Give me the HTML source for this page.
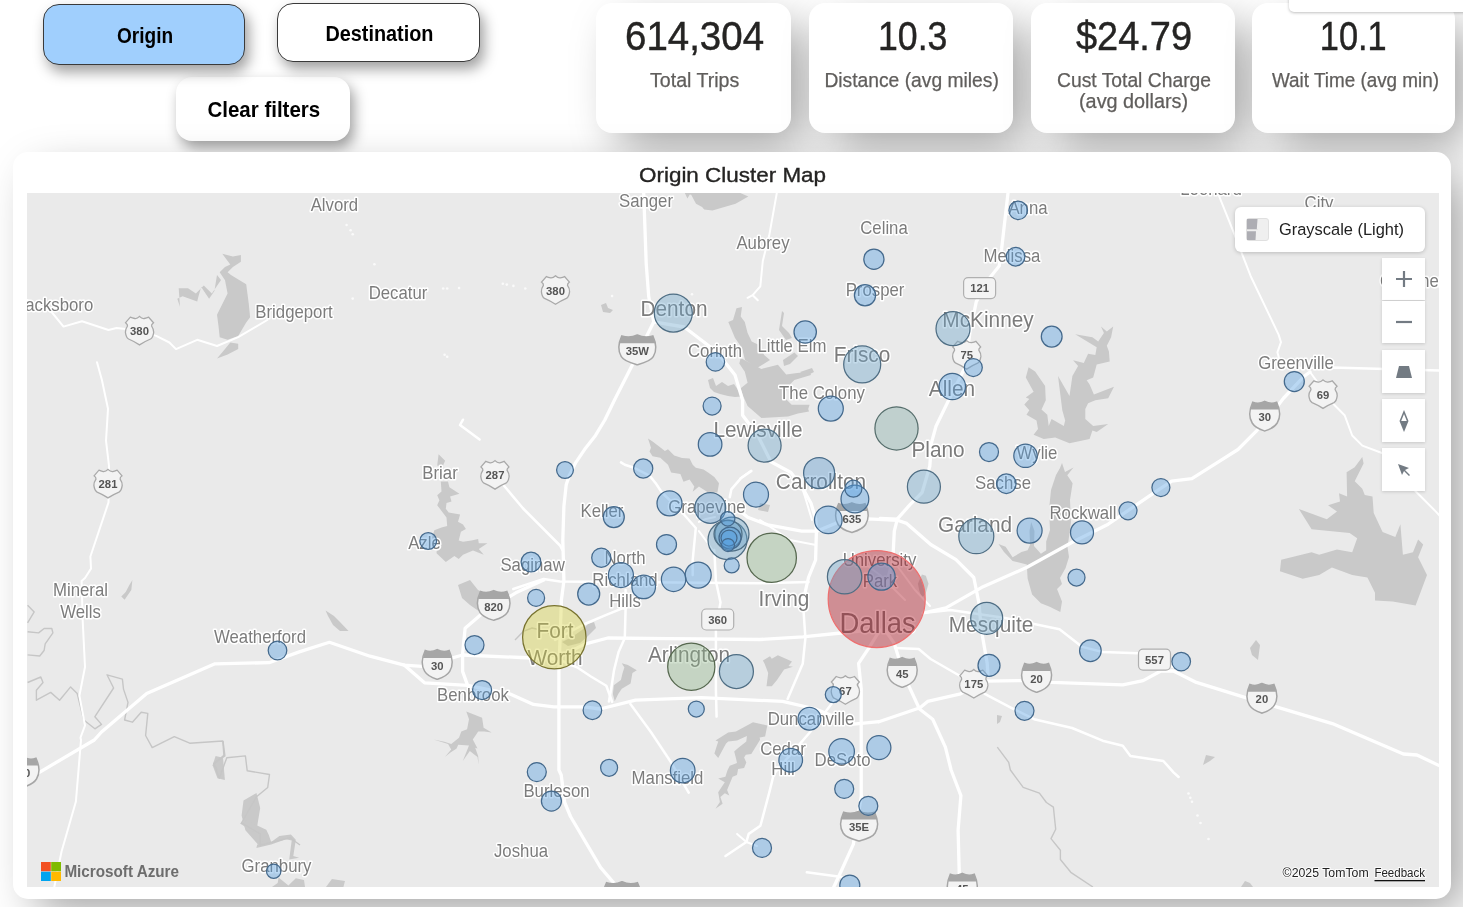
<!DOCTYPE html><html><head><meta charset="utf-8"><title>Origin Cluster Map</title><style>
*{box-sizing:border-box}
html,body{margin:0;padding:0}
body{width:1463px;height:907px;overflow:hidden;position:relative;background:#fff;font-family:"Liberation Sans",Arial,sans-serif}
.btn{position:absolute;border-radius:16px;display:flex;align-items:center;justify-content:center;font-weight:bold;font-size:19px;color:#000;letter-spacing:-0.2px}
.card{position:absolute;background:#fff;border-radius:16px;box-shadow:17px 17px 46px -5px rgba(0,0,0,0.37)}
.kv{position:absolute;left:0;right:0;text-align:center;font-size:39px;color:#252423;top:14px;line-height:44px;letter-spacing:0.5px}
.kl{position:absolute;left:0;right:0;text-align:center;font-size:18px;color:#605e5c;top:67px;line-height:21px}
.lb{font-family:"Liberation Sans",Arial,sans-serif;fill:#7c7c7c;text-anchor:middle;stroke:#ffffff;stroke-width:3px;paint-order:stroke;stroke-linejoin:round}
.sh{font-family:"Liberation Sans",Arial,sans-serif;font-weight:bold;font-size:11.3px;fill:#555;text-anchor:middle}
</style></head><body>
<div class="btn" style="left:176.4px;top:76.7px;width:173.2px;height:64px;background:#fff;box-shadow:4px 7px 14px rgba(0,0,0,0.38)"></div>
<div class="btn" style="left:42.6px;top:4.2px;width:202.4px;height:60.5px;background:#a0cffd;border:1px solid #3a3a3a;box-shadow:4px 7px 14px rgba(0,0,0,0.38)"></div>
<div class="btn" style="left:277px;top:3px;width:203px;height:58.7px;background:#fff;border:1px solid #3a3a3a;box-shadow:4px 7px 14px rgba(0,0,0,0.38)"></div>
<div class="card" style="left:596.2px;top:2.6px;width:195.3px;height:130.3px"></div>
<div class="card" style="left:809px;top:2.6px;width:204px;height:130.3px"></div>
<div class="card" style="left:1031.1px;top:2.6px;width:203.5px;height:130.3px"></div>
<div class="card" style="left:1252.3px;top:2.6px;width:202.7px;height:130.3px"></div>
<div style="position:absolute;left:1289px;top:-10px;width:190px;height:22px;background:#fff;border-radius:5px;box-shadow:0 1px 3px rgba(0,0,0,0.25)"></div>
<div class="card" style="left:12.8px;top:152.4px;width:1438.5px;height:746.8px;border-radius:15px"></div>
<svg width="1412" height="694" viewBox="27 193 1412 694" style="position:absolute;left:27px;top:193px;display:block">
<rect x="27" y="193" width="1412" height="694" fill="#eaeaea"/>
<polygon points="233.0,276.3 246.2,284.3 248.8,304.1 250.1,317.3 246.2,322.6 238.2,335.9 227.6,339.8 219.7,337.2 218.4,325.3 217.0,314.7 227.6,293.5 225.0,280.3 219.7,272.3 225.0,267.0 230.3,264.4 222.3,253.8 232.9,256.5 240.9,255.1 240.9,261.8 232.9,267.0 227.6,272.3 231.0,275.0" fill="#c9c9c9"/>
<polygon points="217.0,275.0 214.4,290.9 209.1,298.8 201.2,286.9 198.5,296.2 197.2,301.5 182.6,296.2 177.3,298.8 180.0,306.8 178.7,288.2 188.0,288.2 195.9,293.5 203.8,285.6 211.8,293.5 221.0,280.0" fill="#c9c9c9"/>
<polygon points="230.3,342.5 238.2,343.8 238.2,349.1 227.6,354.4 217.0,358.4 225.0,349.1" fill="#c9c9c9"/>
<polygon points="440.8,481.6 448.0,481.6 449.4,487.3 459.4,493.8 450.1,496.6 451.5,501.6 446.5,503.1 445.8,508.8 448.7,512.4 460.1,514.6 458.0,521.7 463.0,524.6 465.9,528.9 460.9,531.8 458.7,540.4 463.0,541.8 471.6,540.4 478.1,538.9 478.8,543.2 487.4,543.2 478.8,549.0 483.8,554.7 473.0,550.4 463.0,554.7 458.7,559.0 454.4,556.1 445.8,561.9 436.5,553.3 437.2,546.1 432.2,537.5 434.3,530.3 441.5,527.5 447.2,526.0 446.5,517.4 437.2,505.2 439.4,500.2 437.2,495.2 441.5,491.6" fill="#c9c9c9"/>
<polygon points="438.6,454.3 445.1,460.8 442.9,465.8 437.2,465.8" fill="#c9c9c9"/>
<polygon points="684.7,192.7 739.7,192.7 748.3,196.5 735.6,203.7 712.4,210.5 704.2,209.5 702.1,207.1 696.0,203.7 691.2,194.8 689.8,194.4 687.4,198.5" fill="#c9c9c9"/>
<polygon points="740.7,357.9 761.4,368.9 777.9,364.8 786.2,374.4 797.2,373.1 809.6,371.7 811.0,375.1 794.4,379.9 788.9,385.5 783.4,396.5 791.7,404.8 809.6,404.8 808.2,408.9 809.0,411.5 798.0,413.5 788.0,416.5 761.4,418.0 747.6,406.1 743.4,396.5 740.7,388.2 747.6,382.7 744.8,371.7 739.3,363.4" fill="#c9c9c9"/>
<polygon points="736.5,308.3 742.0,306.9 740.7,316.5 744.8,322.0 747.6,333.1 751.7,341.4 760.0,345.5 764.1,355.1 770.0,360.0 757.0,368.0 745.0,360.0 742.0,348.0 735.0,338.0 728.3,322.0 733.0,320.0" fill="#c9c9c9"/>
<polygon points="708.0,380.0 713.0,378.0 716.0,386.0 722.0,382.0 728.0,386.0 734.0,384.0 738.0,390.0 742.0,396.5 735.0,397.0 728.0,396.0 720.0,394.0 714.0,392.0 710.0,388.0" fill="#c9c9c9"/>
<polygon points="782.0,311.0 784.0,313.0 782.0,326.0 789.0,333.0 792.0,338.0 786.0,340.0 779.0,330.0" fill="#c9c9c9"/>
<polygon points="794.4,352.4 798.0,356.0 790.0,364.0 784.0,366.0 783.0,360.0" fill="#c9c9c9"/>
<polygon points="800.0,372.0 812.0,368.0 814.0,372.0 806.0,376.0" fill="#c9c9c9"/>
<polygon points="648.0,438.5 651.0,447.8 649.5,451.6 652.6,456.3 660.3,457.8 668.0,464.8 671.1,472.5 680.4,474.0 683.5,481.7 689.6,479.4 694.3,486.4 692.7,491.8 698.9,486.4 708.1,492.5 717.4,492.5 719.0,483.3 714.3,477.1 708.1,472.5 703.5,469.4 695.8,467.8 692.7,464.8 689.6,458.6 682.0,458.0 674.2,455.5 668.0,449.3 664.9,450.9 658.8,446.2 652.6,441.6" fill="#c9c9c9"/>
<polygon points="760.0,503.0 770.0,505.0 768.0,512.0 758.0,510.0" fill="#c9c9c9"/>
<polygon points="1028.6,367.3 1035.1,371.6 1045.1,386.0 1045.8,400.3 1041.5,409.6 1047.3,414.7 1048.7,426.1 1051.6,419.0 1063.8,426.1 1065.2,420.4 1062.3,410.3 1058.0,375.9 1069.5,396.0 1072.4,375.9 1078.1,365.9 1073.1,360.2 1083.8,363.0 1088.1,353.7 1095.3,355.1 1096.7,347.2 1075.2,334.3 1092.4,337.2 1098.2,341.5 1103.9,332.9 1101.0,326.5 1106.8,331.5 1113.2,326.5 1111.1,337.2 1106.8,345.8 1108.9,351.6 1109.7,361.6 1096.7,364.5 1093.2,377.4 1086.7,380.2 1089.6,384.5 1093.9,394.6 1114.0,386.7 1108.2,398.2 1095.3,400.3 1088.1,403.2 1085.3,408.9 1085.3,419.0 1093.2,426.1 1108.2,424.0 1096.7,431.9 1092.4,430.4 1089.6,439.0 1069.5,443.3 1055.2,437.6 1043.7,439.0 1033.6,434.7 1038.0,429.0 1036.5,420.4 1026.5,414.7 1029.3,410.3 1024.3,404.6 1029.3,398.9 1025.8,397.4 1033.6,391.7 1025.8,377.4" fill="#c9c9c9"/>
<polygon points="1062.0,463.0 1065.0,472.0 1073.5,467.4 1067.3,475.3 1072.6,483.2 1070.0,500.0 1071.0,522.0 1069.0,537.0 1067.5,547.0 1069.0,557.0 1065.6,568.0 1060.0,578.0 1062.0,584.0 1057.0,589.0 1062.0,601.5 1060.3,612.0 1049.7,606.8 1040.9,603.2 1032.1,594.4 1027.6,578.5 1026.8,564.4 1012.6,560.9 1004.0,552.0 998.5,544.1 1005.6,546.8 1012.6,557.3 1021.5,552.1 1027.6,550.3 1030.0,545.0 1029.5,531.0 1031.2,522.0 1034.5,531.0 1034.0,546.0 1040.9,553.8 1046.2,550.3 1046.2,541.5 1050.0,530.0 1049.0,510.0 1051.0,490.0 1056.0,475.0 1060.0,468.0" fill="#c9c9c9"/>
<polygon points="921.9,574.4 925.8,575.7 928.5,583.7 925.8,592.9 921.9,598.2 919.2,590.3 917.9,583.7" fill="#c9c9c9"/>
<polygon points="1362.3,457.1 1354.7,467.2 1346.6,472.3 1347.1,496.4 1339.0,493.3 1340.0,501.4 1328.1,505.2 1337.0,511.6 1326.8,519.2 1298.9,509.1 1311.6,529.3 1349.6,533.1 1357.2,538.2 1352.2,552.2 1337.0,549.6 1319.2,554.7 1311.6,552.2 1281.2,559.8 1279.9,571.2 1302.7,578.8 1319.2,575.0 1331.9,567.4 1352.2,575.0 1367.4,577.5 1375.0,592.7 1375.0,600.4 1392.7,601.6 1415.6,605.4 1427.0,575.0 1418.1,557.2 1423.2,544.6 1418.1,539.5 1413.0,552.2 1402.9,554.7 1400.4,524.3 1395.3,537.0 1382.6,531.9 1373.7,512.9 1372.5,496.4 1364.8,495.1 1362.3,488.8 1354.7,481.2 1363.6,463.4" fill="#c9c9c9"/>
<polygon points="466.3,711.6 482.1,717.7 483.6,727.8 491.7,732.4 484.4,731.6 478.2,731.6 472.8,739.4 477.5,748.6 475.2,747.8 478.2,756.3 478.6,764.8 477.5,757.1 469.8,750.9 462.8,761.0 469.0,745.5 458.2,744.8 456.6,748.6 450.5,752.5 445.1,756.7 451.2,749.4 448.1,744.0 433.5,739.4 444.3,741.7 451.2,744.0 459.0,737.8 461.3,731.6 467.1,729.3 469.0,719.3" fill="#c9c9c9"/>
<polygon points="562.0,642.0 572.0,637.0 582.0,630.0 588.0,624.0 594.0,622.0 596.0,628.0 588.0,636.0 580.0,643.0 568.0,646.0" fill="#c9c9c9"/>
<polygon points="132.4,579.9 131.3,589.9 124.6,599.8 121.3,596.5 125.7,592.1 129.1,585.4" fill="#c9c9c9"/>
<polygon points="243.5,800.5 256.5,793.0 260.2,807.9 256.5,830.2 267.7,837.7 260.2,847.0 245.4,830.2 241.6,815.4" fill="#c9c9c9"/>
<polygon points="215.6,755.9 223.0,757.7 224.9,780.0 217.5,778.2 212.6,765.2" fill="#c9c9c9"/>
<polygon points="240.0,823.3 248.2,820.0 252.3,823.3 266.3,829.8 268.7,834.8 271.2,842.1 279.4,836.0 290.9,834.4 295.8,839.7 293.3,856.0 299.1,857.7 289.2,859.4 291.7,840.5 285.9,839.3 271.2,844.6 256.4,847.9 257.2,844.6 262.1,843.8 262.1,838.0 254.8,833.1 240.8,824.1" fill="#c9c9c9"/>
<polygon points="272.0,887.0 277.7,883.0 278.6,877.4 288.4,885.6 295.8,878.2 304.0,879.9 305.0,887.0" fill="#c9c9c9"/>
<polygon points="326.0,887.0 331.9,879.1 345.0,881.1 343.4,887.0" fill="#c9c9c9"/>
<polygon points="1206.0,755.0 1215.0,757.0 1210.0,761.0 1203.0,765.0" fill="#c9c9c9"/>
<polygon points="1256.0,640.0 1260.0,645.0 1258.0,660.0 1252.0,655.0 1250.0,648.0" fill="#c9c9c9"/>
<polygon points="997.0,715.0 1002.0,716.0 1000.0,722.0 997.0,724.0" fill="#c9c9c9"/>
<polygon points="601.0,305.0 606.0,303.0 608.0,308.0 613.0,310.0 610.0,313.0 603.0,312.0" fill="#c9c9c9"/>
<polygon points="1241.0,887.0 1245.0,881.0 1250.0,883.0 1253.0,887.0" fill="#c9c9c9"/>
<polygon points="325.6,610.6 334.0,616.0 340.0,622.0 348.5,630.9 340.0,631.0 333.0,625.0 328.0,616.0" fill="#c9c9c9"/>
<polygon points="753.0,722.2 767.3,725.5 765.1,736.5 759.6,737.6 760.1,739.8 751.3,754.1 745.8,754.7 744.1,757.4 746.3,762.4 744.1,767.9 738.1,769.0 737.0,775.1 732.6,776.7 727.1,790.0 729.3,795.5 724.8,793.3 720.4,797.1 722.6,803.8 715.5,808.7 719.9,802.1 718.2,792.2 724.8,782.3 718.2,778.4 725.4,776.7 727.6,770.1 729.8,765.7 737.0,763.0 735.9,758.0 734.2,751.4 738.1,748.1 746.3,741.5 746.9,735.9 737.0,740.4 728.2,741.5 725.9,743.7 718.2,758.0 714.4,753.6 718.2,741.5 715.5,740.4 728.2,732.6 735.9,731.5" fill="#c9c9c9"/>
<polygon points="762.9,660.6 770.0,656.2 771.8,658.8 777.9,655.3 792.0,661.5 788.5,665.9 792.9,666.8 784.1,669.4 777.0,680.0 771.8,686.2 766.5,686.2 768.2,672.9 764.7,664.1" fill="#c9c9c9"/>
<polygon points="621.8,663.2 627.9,665.0 636.8,670.3 632.4,672.9 630.6,683.5 621.8,688.8 618.2,694.1 614.7,701.2 612.9,694.1 613.8,685.3 620.9,680.0 622.6,672.9 624.4,667.6" fill="#c9c9c9"/>
<polygon points="458.0,585.0 470.0,580.0 478.0,590.0 490.0,596.0 500.0,602.0 492.0,610.0 480.0,612.0 470.0,605.0 462.0,598.0" fill="#c9c9c9"/>
<polyline points="515.0,640.0 523.3,631.4 532.0,628.0 545.0,631.0 556.0,638.0" fill="none" stroke="#c6c6c6" stroke-width="1.4" stroke-linejoin="round"/>
<polyline points="997.3,747.1 1008.7,762.3 1010.4,770.0 1023.2,787.4 1039.4,793.2 1046.4,802.5 1053.4,807.2 1055.7,829.3 1051.0,838.6 1060.4,850.2 1060.4,859.5 1070.8,872.3 1092.9,887.0" fill="none" stroke="#c6c6c6" stroke-width="1.4" stroke-linejoin="round"/>
<polyline points="223.0,741.0 224.9,755.9 213.8,763.3 219.3,778.2 226.8,757.7 245.4,755.9 247.2,770.7 269.5,774.5 267.7,787.5 256.5,796.8 241.6,822.8 260.2,833.9 260.2,845.1 290.0,837.7 300.0,845.0" fill="none" stroke="#c6c6c6" stroke-width="1.4" stroke-linejoin="round"/>
<polyline points="27.6,605.3 34.2,611.9 27.6,622.9" fill="none" stroke="#c6c6c6" stroke-width="1.4" stroke-linejoin="round"/>
<polyline points="27.6,631.8 38.6,632.9 44.1,628.5 51.8,628.5 52.9,632.9 45.2,643.9 44.1,650.5 39.7,656.0 27.6,654.9" fill="none" stroke="#c6c6c6" stroke-width="1.4" stroke-linejoin="round"/>
<polyline points="27.6,682.5 40.8,677.0 43.0,682.5 36.4,690.2 36.4,700.2 50.7,692.4 59.6,700.2 70.6,686.9 77.2,693.5 83.8,720.0 94.9,728.8 101.5,724.4 94.9,716.7 113.6,688.0 107.0,674.8 122.4,679.2 123.5,689.1 128.0,702.4 124.6,720.0 132.4,722.2 141.2,712.3 147.8,713.4 145.6,735.5 152.2,747.6 174.3,736.6 189.7,743.2 222.8,741.0 223.9,755.3 214.0,764.1 217.3,770.1" fill="none" stroke="#c6c6c6" stroke-width="1.4" stroke-linejoin="round"/>
<circle cx="1188.5" cy="793.5" r="1.3" fill="#fafafa"/>
<circle cx="1190.3" cy="797.8" r="1.3" fill="#fafafa"/>
<circle cx="1192" cy="801.8" r="1.3" fill="#fafafa"/>
<circle cx="1197.5" cy="815.5" r="1.3" fill="#fafafa"/>
<circle cx="1200.5" cy="823" r="1.3" fill="#fafafa"/>
<circle cx="1208.5" cy="839" r="1.3" fill="#fafafa"/>
<circle cx="346.6" cy="225" r="1.3" fill="#fafafa"/>
<circle cx="350.6" cy="230.3" r="1.3" fill="#fafafa"/>
<circle cx="352.7" cy="234.3" r="1.3" fill="#fafafa"/>
<circle cx="374.4" cy="264.2" r="1.3" fill="#fafafa"/>
<circle cx="352.7" cy="298.6" r="1.3" fill="#fafafa"/>
<circle cx="443.2" cy="288.5" r="1.3" fill="#fafafa"/>
<circle cx="447.2" cy="288.5" r="1.3" fill="#fafafa"/>
<circle cx="459.1" cy="288" r="1.3" fill="#fafafa"/>
<circle cx="502.8" cy="283.8" r="1.3" fill="#fafafa"/>
<circle cx="506.8" cy="284.6" r="1.3" fill="#fafafa"/>
<circle cx="513.4" cy="285.9" r="1.3" fill="#fafafa"/>
<circle cx="525.3" cy="288.5" r="1.3" fill="#fafafa"/>
<circle cx="444.6" cy="354.7" r="1.3" fill="#fafafa"/>
<circle cx="447.2" cy="356.8" r="1.3" fill="#fafafa"/>
<circle cx="612.1" cy="296" r="1.3" fill="#fafafa"/>
<circle cx="692" cy="294.3" r="1.3" fill="#fafafa"/>
<polyline points="643.7,193.0 646.2,263.5 648.7,296.5 653.8,321.8" fill="none" stroke="#ffffff" stroke-width="3.3" stroke-linejoin="round" stroke-linecap="round"/>
<polyline points="653.8,321.8 632.3,365.0 614.5,400.0 604.8,420.0 595.5,435.4 584.7,449.3 575.4,463.2 569.3,475.6 566.2,484.8 563.9,506.4 562.8,540.0 563.1,550.0 563.9,580.9 561.4,600.0 558.9,671.4 558.9,770.0 561.2,775.0 564.7,802.5 570.5,816.5 600.7,867.6 614.6,883.9 620.0,890.0" fill="none" stroke="#ffffff" stroke-width="3.3" stroke-linejoin="round" stroke-linecap="round"/>
<polyline points="653.8,321.8 684.2,327.0 717.2,352.3 735.0,375.0 742.6,400.4 742.6,415.2 757.8,435.5 770.9,461.7 790.9,472.5 801.7,486.4 811.0,503.3 815.6,518.8 816.4,531.1 815.6,560.0 808.5,577.5 803.4,600.0" fill="none" stroke="#ffffff" stroke-width="3.3" stroke-linejoin="round" stroke-linecap="round"/>
<polyline points="880.0,630.0 868.8,648.2 858.6,663.4 861.2,688.7 861.2,797.8 861.4,795.6 853.3,844.4 841.7,870.0 832.4,890.0" fill="none" stroke="#ffffff" stroke-width="3.3" stroke-linejoin="round" stroke-linecap="round"/>
<polyline points="776.8,193.0 769.2,235.6 762.8,261.0 760.3,286.3 752.7,295.2 747.6,297.8" fill="none" stroke="#ffffff" stroke-width="2.0" stroke-linejoin="round" stroke-linecap="round"/>
<polyline points="752.7,295.2 757.8,300.3" fill="none" stroke="#ffffff" stroke-width="2.0" stroke-linejoin="round" stroke-linecap="round"/>
<polyline points="1008.0,193.0 1001.7,248.3 999.2,266.0 989.0,278.7 976.3,301.6 970.0,332.0 965.0,367.5 948.5,400.4 936.0,426.2 931.4,443.1 929.8,466.3 922.1,492.5 909.8,504.9 897.4,518.8 894.3,531.1 892.8,560.0 891.4,564.8 885.0,590.0" fill="none" stroke="#ffffff" stroke-width="3.3" stroke-linejoin="round" stroke-linecap="round"/>
<polyline points="1217.8,193.0 1233.0,230.6 1250.7,276.2 1278.6,334.6 1281.0,342.2 1277.4,352.3 1280.0,362.0 1300.0,368.0" fill="none" stroke="#ffffff" stroke-width="2.0" stroke-linejoin="round" stroke-linecap="round"/>
<polyline points="1300.0,368.0 1331.9,367.5 1438.4,370.6 1440.0,370.6" fill="none" stroke="#ffffff" stroke-width="2.5" stroke-linejoin="round" stroke-linecap="round"/>
<polyline points="1310.0,372.0 1334.4,405.0 1344.6,415.2 1352.2,435.5 1362.3,445.6 1382.6,453.3 1400.0,470.0 1415.6,491.3 1435.9,511.6 1440.0,516.0" fill="none" stroke="#ffffff" stroke-width="2.0" stroke-linejoin="round" stroke-linecap="round"/>
<polyline points="923.1,613.0 945.9,607.9 981.4,587.6 1027.0,567.3 1072.7,542.0 1108.2,524.2 1148.8,496.3 1171.6,481.1 1191.9,478.6 1220.0,460.9 1238.0,449.5 1255.8,431.7 1276.0,408.0 1283.7,398.0 1304.0,376.4 1310.0,372.0" fill="none" stroke="#ffffff" stroke-width="3.3" stroke-linejoin="round" stroke-linecap="round"/>
<polyline points="740.0,511.0 747.7,517.2 767.8,524.9 801.7,531.1 817.2,531.1 838.8,521.9 868.1,518.8 897.4,520.3 906.7,523.4 930.7,544.5 956.0,559.7 973.8,577.5 978.9,602.8 981.4,630.0 987.2,663.4 988.0,676.0" fill="none" stroke="#ffffff" stroke-width="3.3" stroke-linejoin="round" stroke-linecap="round"/>
<polyline points="878.9,721.7 920.0,707.8 927.6,701.4 960.6,693.8 985.9,681.1 1021.4,680.6 1051.8,682.4 1122.8,684.9 1143.1,680.6 1160.9,671.0 1173.5,671.0 1196.4,682.4 1249.6,698.9 1332.3,723.6 1403.4,754.0 1417.0,755.0 1440.0,766.0" fill="none" stroke="#ffffff" stroke-width="3.3" stroke-linejoin="round" stroke-linecap="round"/>
<polyline points="923.0,613.0 950.4,610.1 1003.7,617.7 1059.5,629.2 1082.3,646.9 1102.6,652.0 1138.0,653.2 1173.5,667.2" fill="none" stroke="#ffffff" stroke-width="2.5" stroke-linejoin="round" stroke-linecap="round"/>
<polyline points="973.8,683.7 984.7,693.8 1011.3,707.8 1034.1,719.2 1072.1,728.0 1102.6,740.7 1122.8,745.8 1130.4,755.9 1163.4,761.0 1173.5,772.4 1178.6,777.0" fill="none" stroke="#ffffff" stroke-width="2.5" stroke-linejoin="round" stroke-linecap="round"/>
<polyline points="885.0,630.0 894.1,643.1 904.3,676.1 919.5,709.0 932.7,719.2 945.4,747.1 951.1,770.0 960.9,795.6 958.1,830.4 959.3,875.0" fill="none" stroke="#ffffff" stroke-width="3.3" stroke-linejoin="round" stroke-linecap="round"/>
<polyline points="520.9,657.5 555.0,659.0 584.7,644.1 607.8,638.0 668.0,638.7 760.0,639.5 802.8,636.8 840.9,633.0 870.0,630.0" fill="none" stroke="#ffffff" stroke-width="3.3" stroke-linejoin="round" stroke-linecap="round"/>
<polyline points="404.2,665.1 424.5,682.8 467.6,685.4 510.7,694.2 533.5,704.4 553.8,706.9 584.3,706.9 600.0,709.0 635.5,700.2 701.4,697.6 782.6,701.4 815.5,709.0 853.5,724.2 878.9,721.7" fill="none" stroke="#ffffff" stroke-width="3.3" stroke-linejoin="round" stroke-linecap="round"/>
<polyline points="27.0,776.0 36.9,773.8 94.3,740.0 101.5,732.0 146.7,693.5 215.0,663.8 269.0,662.7 300.0,651.6 329.4,642.3 370.0,656.2 404.2,665.1 422.0,666.3 462.6,655.0 520.9,657.5" fill="none" stroke="#ffffff" stroke-width="3.3" stroke-linejoin="round" stroke-linecap="round"/>
<polyline points="97.0,362.3 101.9,380.0 108.0,408.7 106.0,440.7 109.0,466.0 108.5,502.4 90.4,556.5 91.0,568.6 85.0,578.0 81.6,581.0 82.7,620.7 85.0,667.0 79.4,695.7 85.0,725.5 80.5,737.7 81.0,740.0 75.9,801.5 61.5,851.7 54.3,887.0" fill="none" stroke="#ffffff" stroke-width="2.0" stroke-linejoin="round" stroke-linecap="round"/>
<polyline points="27.0,300.0 51.6,312.0 63.5,326.6 82.0,321.3 108.5,330.0 116.5,328.0 139.5,330.6 156.2,335.9 169.4,342.5 176.0,349.1 197.2,339.8 217.0,346.0 238.2,337.2 267.3,320.0" fill="none" stroke="#ffffff" stroke-width="2.0" stroke-linejoin="round" stroke-linecap="round"/>
<polyline points="463.0,419.7 460.0,425.0 479.6,439.6" fill="none" stroke="#ffffff" stroke-width="2.5" stroke-linejoin="round" stroke-linecap="round"/>
<polyline points="495.0,474.9 522.7,508.0 560.0,545.5 562.4,550.0" fill="none" stroke="#ffffff" stroke-width="2.5" stroke-linejoin="round" stroke-linecap="round"/>
<polyline points="543.7,580.1 515.8,592.8 482.8,613.1 465.1,628.3 462.6,653.7 462.6,671.4 467.6,685.4" fill="none" stroke="#ffffff" stroke-width="3.3" stroke-linejoin="round" stroke-linecap="round"/>
<polyline points="513.3,589.0 543.7,578.9 560.0,581.6 760.0,583.2 808.5,582.0" fill="none" stroke="#ffffff" stroke-width="2.5" stroke-linejoin="round" stroke-linecap="round"/>
<polyline points="555.0,640.0 584.7,624.0 606.3,614.8 621.7,608.6 625.6,608.6" fill="none" stroke="#ffffff" stroke-width="2.5" stroke-linejoin="round" stroke-linecap="round"/>
<polyline points="625.6,590.0 625.6,608.6 624.8,638.0 618.6,651.9 614.0,670.4 611.0,690.0 608.9,701.4" fill="none" stroke="#ffffff" stroke-width="2.5" stroke-linejoin="round" stroke-linecap="round"/>
<polyline points="560.0,660.0 577.0,667.3 590.9,676.5 606.3,685.8 612.1,701.8" fill="none" stroke="#ffffff" stroke-width="2.5" stroke-linejoin="round" stroke-linecap="round"/>
<polyline points="714.3,550.0 715.9,580.9 720.5,602.5 715.9,627.2 715.9,690.0 716.6,716.6" fill="none" stroke="#ffffff" stroke-width="2.5" stroke-linejoin="round" stroke-linecap="round"/>
<polyline points="802.8,600.0 805.4,638.0 802.8,663.4 787.6,698.9" fill="none" stroke="#ffffff" stroke-width="2.5" stroke-linejoin="round" stroke-linecap="round"/>
<polyline points="845.0,690.0 833.3,701.4 810.4,731.8 792.7,752.1 775.0,772.4 773.1,777.0 769.7,790.9 760.4,825.8 748.7,833.9 746.4,842.0 725.5,856.0" fill="none" stroke="#ffffff" stroke-width="2.5" stroke-linejoin="round" stroke-linecap="round"/>
<polyline points="737.1,833.9 746.4,842.0 757.0,846.0" fill="none" stroke="#ffffff" stroke-width="2.0" stroke-linejoin="round" stroke-linecap="round"/>
<polyline points="806.8,872.3 841.7,876.9" fill="none" stroke="#ffffff" stroke-width="2.5" stroke-linejoin="round" stroke-linecap="round"/>
<polyline points="630.4,704.0 650.7,731.8 671.0,762.3 688.7,792.7" fill="none" stroke="#ffffff" stroke-width="2.5" stroke-linejoin="round" stroke-linecap="round"/>
<polyline points="895.0,648.0 918.7,649.0 930.6,659.0 958.4,675.0 973.8,683.7" fill="none" stroke="#ffffff" stroke-width="2.5" stroke-linejoin="round" stroke-linecap="round"/>
<polyline points="621.0,462.4 624.8,464.8 634.1,467.8 649.5,475.6 655.7,483.3 661.9,492.5 680.0,510.0 695.8,528.0 694.3,543.5 692.7,560.0 692.7,575.0" fill="none" stroke="#ffffff" stroke-width="2.5" stroke-linejoin="round" stroke-linecap="round"/>
<polyline points="751.4,470.9 740.6,478.6 731.3,489.4 729.8,497.2" fill="none" stroke="#ffffff" stroke-width="2.5" stroke-linejoin="round" stroke-linecap="round"/>
<polyline points="698.9,521.9 706.0,519.0 715.0,517.0" fill="none" stroke="#ffffff" stroke-width="2.0" stroke-linejoin="round" stroke-linecap="round"/>
<polyline points="698.9,531.1 708.1,543.5 714.3,552.7" fill="none" stroke="#ffffff" stroke-width="2.0" stroke-linejoin="round" stroke-linecap="round"/>
<polyline points="750.8,470.9 740.0,478.6" fill="none" stroke="#ffffff" stroke-width="2.0" stroke-linejoin="round" stroke-linecap="round"/>
<polyline points="801.7,486.4 806.0,500.0 812.0,520.0" fill="none" stroke="#ffffff" stroke-width="2.0" stroke-linejoin="round" stroke-linecap="round"/>
<polyline points="880.0,517.9 897.4,518.8" fill="none" stroke="#ffffff" stroke-width="2.5" stroke-linejoin="round" stroke-linecap="round"/>
<polyline points="892.8,560.0 915.0,590.0 930.0,606.0" fill="none" stroke="#ffffff" stroke-width="2.0" stroke-linejoin="round" stroke-linecap="round"/>
<polyline points="860.0,560.0 880.0,575.0 905.0,600.0" fill="none" stroke="#ffffff" stroke-width="2.0" stroke-linejoin="round" stroke-linecap="round"/>
<polyline points="760.0,520.0 790.0,540.0 816.0,545.0" fill="none" stroke="#ffffff" stroke-width="2.0" stroke-linejoin="round" stroke-linecap="round"/>
<path d="M139.5,316.4 Q137.2,318.8 134.8,318.5 Q132.2,318.0 130.3,317.2 L125.6,322.7 Q127.8,324.4 127.5,326.0 Q125.2,329.4 125.4,332.2 Q126.0,337.4 128.6,339.0 Q134.2,341.4 139.5,344.9 Q144.8,341.4 150.5,339.0 Q153.1,337.4 153.7,332.2 Q153.8,329.4 151.6,326.0 Q151.2,324.4 153.5,322.7 L148.7,317.2 Q146.8,318.0 144.2,318.5 Q141.8,318.8 139.5,316.4 Z" fill="#f3f3f3" stroke="#a9a9a9" stroke-width="1.3"/>
<text x="139.5" y="335.1" class="sh">380</text>
<path d="M555.5,275.8 Q553.1,278.1 550.8,277.9 Q548.1,277.4 546.4,276.6 L541.5,282.1 Q543.8,283.8 543.4,285.4 Q541.1,288.8 541.4,291.6 Q541.9,296.8 544.5,298.4 Q550.1,300.8 555.5,304.2 Q560.9,300.8 566.4,298.4 Q569.0,296.8 569.6,291.6 Q569.9,288.8 567.5,285.4 Q567.2,283.8 569.4,282.1 L564.6,276.6 Q562.9,277.4 560.2,277.9 Q557.9,278.1 555.5,275.8 Z" fill="#f3f3f3" stroke="#a9a9a9" stroke-width="1.3"/>
<text x="555.5" y="294.5" class="sh">380</text>
<path d="M108.0,469.4 Q105.7,471.8 103.2,471.6 Q100.7,471.1 98.9,470.2 L94.1,475.8 Q96.2,477.4 96.0,479.1 Q93.7,482.4 93.9,485.3 Q94.5,490.4 97.1,492.1 Q102.7,494.4 108.0,497.9 Q113.4,494.4 119.0,492.1 Q121.6,490.4 122.2,485.3 Q122.4,482.4 120.1,479.1 Q119.8,477.4 122.0,475.8 L117.2,470.2 Q115.4,471.1 112.8,471.6 Q110.4,471.8 108.0,469.4 Z" fill="#f3f3f3" stroke="#a9a9a9" stroke-width="1.3"/>
<text x="108.0" y="488.2" class="sh">281</text>
<path d="M495.0,460.6 Q492.6,463.0 490.2,462.8 Q487.6,462.2 485.8,461.4 L481.0,466.9 Q483.2,468.6 482.9,470.2 Q480.6,473.6 480.8,476.5 Q481.4,481.6 484.0,483.2 Q489.6,485.6 495.0,489.1 Q500.3,485.6 505.9,483.2 Q508.5,481.6 509.1,476.5 Q509.3,473.6 507.0,470.2 Q506.8,468.6 508.9,466.9 L504.1,461.4 Q502.3,462.2 499.8,462.8 Q497.3,463.0 495.0,460.6 Z" fill="#f3f3f3" stroke="#a9a9a9" stroke-width="1.3"/>
<text x="495.0" y="479.4" class="sh">287</text>
<path d="M621.8,335.9 Q629.9,338.3 637.3,335.0 Q644.7,338.3 652.8,335.9 C656.4,343.7 656.4,351.7 653.3,356.7 C650.3,361.7 641.0,363.7 637.3,364.7 C633.6,363.7 624.3,361.7 621.3,356.7 C618.2,351.7 618.2,343.7 621.8,335.9 Z" fill="#f3f3f3" stroke="#a6a6a6" stroke-width="1.5"/>
<path d="M621.8,335.9 Q629.9,338.3 637.3,335.0 Q644.7,338.3 652.8,335.9 L655.2,343.3 L619.4,343.3 Z" fill="#a6a6a6"/>
<text x="637.3" y="354.9" class="sh">35W</text>
<rect x="963.6" y="277.6" width="32" height="21" rx="4.5" fill="#f3f3f3" stroke="#b0b0b0" stroke-width="1.2"/>
<text x="979.6" y="292.4" class="sh">121</text>
<path d="M966.7,340.6 Q964.4,342.9 962.0,342.7 Q959.4,342.2 957.6,341.4 L952.8,346.9 Q955.0,348.6 954.6,350.2 Q952.4,353.6 952.6,356.4 Q953.1,361.6 955.8,363.2 Q961.4,365.6 966.7,369.1 Q972.1,365.6 977.6,363.2 Q980.2,361.6 980.9,356.4 Q981.1,353.6 978.8,350.2 Q978.5,348.6 980.6,346.9 L975.9,341.4 Q974.1,342.2 971.5,342.7 Q969.1,342.9 966.7,340.6 Z" fill="#f3f3f3" stroke="#a9a9a9" stroke-width="1.3"/>
<text x="966.7" y="359.3" class="sh">75</text>
<path d="M1323.0,379.9 Q1320.7,382.3 1318.2,382.1 Q1315.7,381.6 1313.9,380.8 L1309.1,386.2 Q1311.2,387.9 1311.0,389.6 Q1308.7,392.9 1308.9,395.8 Q1309.5,400.9 1312.1,402.6 Q1317.7,404.9 1323.0,408.4 Q1328.4,404.9 1334.0,402.6 Q1336.6,400.9 1337.2,395.8 Q1337.4,392.9 1335.1,389.6 Q1334.8,387.9 1337.0,386.2 L1332.2,380.8 Q1330.4,381.6 1327.8,382.1 Q1325.4,382.3 1323.0,379.9 Z" fill="#f3f3f3" stroke="#a9a9a9" stroke-width="1.3"/>
<text x="1323.0" y="398.7" class="sh">69</text>
<path d="M1252.7,402.2 Q1258.7,404.6 1264.7,401.3 Q1270.7,404.6 1276.7,402.2 C1280.3,410.0 1280.3,418.0 1277.2,423.0 C1274.2,428.0 1267.7,430.0 1264.7,431.0 C1261.7,430.0 1255.2,428.0 1252.2,423.0 C1249.1,418.0 1249.1,410.0 1252.7,402.2 Z" fill="#f3f3f3" stroke="#a6a6a6" stroke-width="1.5"/>
<path d="M1252.7,402.2 Q1258.7,404.6 1264.7,401.3 Q1270.7,404.6 1276.7,402.2 L1279.1,409.6 L1250.3,409.6 Z" fill="#a6a6a6"/>
<text x="1264.7" y="421.2" class="sh">30</text>
<path d="M838.6,503.7 Q845.4,506.1 851.9,502.8 Q858.4,506.1 865.1,503.7 C868.8,511.5 868.8,519.5 865.6,524.5 C862.6,529.5 855.1,531.5 851.9,532.5 C848.6,531.5 841.1,529.5 838.1,524.5 C835.0,519.5 835.0,511.5 838.6,503.7 Z" fill="#f3f3f3" stroke="#a6a6a6" stroke-width="1.5"/>
<path d="M838.6,503.7 Q845.4,506.1 851.9,502.8 Q858.4,506.1 865.1,503.7 L867.5,511.1 L836.2,511.1 Z" fill="#a6a6a6"/>
<text x="851.9" y="522.7" class="sh">635</text>
<rect x="701.7" y="609.0" width="32" height="21" rx="4.5" fill="#f3f3f3" stroke="#b0b0b0" stroke-width="1.2"/>
<text x="717.7" y="623.8" class="sh">360</text>
<path d="M480.4,591.5 Q487.2,593.9 493.7,590.6 Q500.2,593.9 506.9,591.5 C510.6,599.3 510.6,607.3 507.4,612.3 C504.4,617.3 496.9,619.3 493.7,620.3 C490.4,619.3 482.9,617.3 479.9,612.3 C476.8,607.3 476.8,599.3 480.4,591.5 Z" fill="#f3f3f3" stroke="#a6a6a6" stroke-width="1.5"/>
<path d="M480.4,591.5 Q487.2,593.9 493.7,590.6 Q500.2,593.9 506.9,591.5 L509.3,598.9 L478.1,598.9 Z" fill="#a6a6a6"/>
<text x="493.7" y="610.5" class="sh">820</text>
<path d="M425.2,650.5 Q431.2,652.9 437.2,649.6 Q443.2,652.9 449.2,650.5 C452.8,658.3 452.8,666.3 449.7,671.3 C446.7,676.3 440.2,678.3 437.2,679.3 C434.2,678.3 427.7,676.3 424.7,671.3 C421.6,666.3 421.6,658.3 425.2,650.5 Z" fill="#f3f3f3" stroke="#a6a6a6" stroke-width="1.5"/>
<path d="M425.2,650.5 Q431.2,652.9 437.2,649.6 Q443.2,652.9 449.2,650.5 L451.6,657.9 L422.8,657.9 Z" fill="#a6a6a6"/>
<text x="437.2" y="669.5" class="sh">30</text>
<path d="M845.4,675.8 Q843.0,678.1 840.6,677.9 Q838.0,677.4 836.2,676.5 L831.4,682.0 Q833.6,683.8 833.3,685.4 Q831.0,688.8 831.2,691.6 Q831.8,696.8 834.4,698.4 Q840.0,700.8 845.4,704.2 Q850.8,700.8 856.3,698.4 Q858.9,696.8 859.5,691.6 Q859.8,688.8 857.4,685.4 Q857.1,683.8 859.3,682.0 L854.5,676.5 Q852.8,677.4 850.1,677.9 Q847.8,678.1 845.4,675.8 Z" fill="#f3f3f3" stroke="#a9a9a9" stroke-width="1.3"/>
<text x="845.4" y="694.5" class="sh">67</text>
<path d="M890.2,658.5 Q896.2,660.9 902.2,657.6 Q908.2,660.9 914.2,658.5 C917.8,666.3 917.8,674.3 914.7,679.3 C911.7,684.3 905.2,686.3 902.2,687.3 C899.2,686.3 892.7,684.3 889.7,679.3 C886.6,674.3 886.6,666.3 890.2,658.5 Z" fill="#f3f3f3" stroke="#a6a6a6" stroke-width="1.5"/>
<path d="M890.2,658.5 Q896.2,660.9 902.2,657.6 Q908.2,660.9 914.2,658.5 L916.6,665.9 L887.8,665.9 Z" fill="#a6a6a6"/>
<text x="902.2" y="677.5" class="sh">45</text>
<path d="M843.6,812.2 Q851.7,814.6 859.1,811.3 Q866.5,814.6 874.6,812.2 C878.2,820.0 878.2,828.0 875.1,833.0 C872.1,838.0 862.8,840.0 859.1,841.0 C855.4,840.0 846.1,838.0 843.1,833.0 C840.0,828.0 840.0,820.0 843.6,812.2 Z" fill="#f3f3f3" stroke="#a6a6a6" stroke-width="1.5"/>
<path d="M843.6,812.2 Q851.7,814.6 859.1,811.3 Q866.5,814.6 874.6,812.2 L877.0,819.6 L841.2,819.6 Z" fill="#a6a6a6"/>
<text x="859.1" y="831.2" class="sh">35E</text>
<path d="M973.8,669.5 Q971.4,671.9 969.0,671.6 Q966.4,671.1 964.6,670.2 L959.8,675.8 Q962.0,677.5 961.7,679.1 Q959.4,682.5 959.6,685.4 Q960.2,690.5 962.8,692.1 Q968.4,694.5 973.8,698.0 Q979.1,694.5 984.7,692.1 Q987.3,690.5 987.9,685.4 Q988.1,682.5 985.8,679.1 Q985.5,677.5 987.7,675.8 L982.9,670.2 Q981.1,671.1 978.5,671.6 Q976.1,671.9 973.8,669.5 Z" fill="#f3f3f3" stroke="#a9a9a9" stroke-width="1.3"/>
<text x="973.8" y="688.2" class="sh">175</text>
<path d="M1024.6,663.5 Q1030.6,665.9 1036.6,662.6 Q1042.6,665.9 1048.6,663.5 C1052.2,671.3 1052.2,679.3 1049.1,684.3 C1046.1,689.3 1039.6,691.3 1036.6,692.3 C1033.6,691.3 1027.1,689.3 1024.1,684.3 C1021.0,679.3 1021.0,671.3 1024.6,663.5 Z" fill="#f3f3f3" stroke="#a6a6a6" stroke-width="1.5"/>
<path d="M1024.6,663.5 Q1030.6,665.9 1036.6,662.6 Q1042.6,665.9 1048.6,663.5 L1051.0,670.9 L1022.2,670.9 Z" fill="#a6a6a6"/>
<text x="1036.6" y="682.5" class="sh">20</text>
<rect x="1138.5" y="649.1" width="32" height="21" rx="4.5" fill="#f3f3f3" stroke="#b0b0b0" stroke-width="1.2"/>
<text x="1154.5" y="663.9" class="sh">557</text>
<path d="M1249.9,684.4 Q1255.9,686.8 1261.9,683.5 Q1267.9,686.8 1273.9,684.4 C1277.5,692.2 1277.5,700.2 1274.4,705.2 C1271.4,710.2 1264.9,712.2 1261.9,713.2 C1258.9,712.2 1252.4,710.2 1249.4,705.2 C1246.3,700.2 1246.3,692.2 1249.9,684.4 Z" fill="#f3f3f3" stroke="#a6a6a6" stroke-width="1.5"/>
<path d="M1249.9,684.4 Q1255.9,686.8 1261.9,683.5 Q1267.9,686.8 1273.9,684.4 L1276.3,691.8 L1247.5,691.8 Z" fill="#a6a6a6"/>
<text x="1261.9" y="703.4" class="sh">20</text>
<path d="M950.3,874.2 Q956.3,876.6 962.3,873.3 Q968.3,876.6 974.3,874.2 C977.9,882.0 977.9,890.0 974.8,895.0 C971.8,900.0 965.3,902.0 962.3,903.0 C959.3,902.0 952.8,900.0 949.8,895.0 C946.7,890.0 946.7,882.0 950.3,874.2 Z" fill="#f3f3f3" stroke="#a6a6a6" stroke-width="1.5"/>
<path d="M950.3,874.2 Q956.3,876.6 962.3,873.3 Q968.3,876.6 974.3,874.2 L976.7,881.6 L947.9,881.6 Z" fill="#a6a6a6"/>
<text x="962.3" y="893.2" class="sh">45</text>
<path d="M606.5,882.7 Q614.6,885.1 622.0,881.8 Q629.4,885.1 637.5,882.7 C641.1,890.5 641.1,898.5 638.0,903.5 C635.0,908.5 625.7,910.5 622.0,911.5 C618.3,910.5 609.0,908.5 606.0,903.5 C602.9,898.5 602.9,890.5 606.5,882.7 Z" fill="#f3f3f3" stroke="#a6a6a6" stroke-width="1.5"/>
<path d="M606.5,882.7 Q614.6,885.1 622.0,881.8 Q629.4,885.1 637.5,882.7 L639.9,890.1 L604.1,890.1 Z" fill="#a6a6a6"/>
<text x="622.0" y="901.7" class="sh">35W</text>
<path d="M12.0,758.2 Q18.0,760.6 24.0,757.3 Q30.0,760.6 36.0,758.2 C39.6,766.0 39.6,774.0 36.5,779.0 C33.5,784.0 27.0,786.0 24.0,787.0 C21.0,786.0 14.5,784.0 11.5,779.0 C8.4,774.0 8.4,766.0 12.0,758.2 Z" fill="#f3f3f3" stroke="#a6a6a6" stroke-width="1.5"/>
<path d="M12.0,758.2 Q18.0,760.6 24.0,757.3 Q30.0,760.6 36.0,758.2 L38.4,765.6 L9.6,765.6 Z" fill="#a6a6a6"/>
<text x="24.0" y="777.2" class="sh">20</text>
<text transform="translate(334.4,210.6) scale(0.95,1)" class="lb" font-size="17.66">Alvord</text>
<text transform="translate(646.0,207.1) scale(0.95,1)" class="lb" font-size="17.66">Sanger</text>
<text transform="translate(763.0,249.1) scale(0.95,1)" class="lb" font-size="17.66">Aubrey</text>
<text transform="translate(884.0,234.1) scale(0.95,1)" class="lb" font-size="17.66">Celina</text>
<text transform="translate(1028.0,214.1) scale(0.95,1)" class="lb" font-size="17.66">Anna</text>
<text transform="translate(1012.0,262.1) scale(0.95,1)" class="lb" font-size="17.66">Melissa</text>
<text transform="translate(875.0,296.1) scale(0.95,1)" class="lb" font-size="17.66">Prosper</text>
<text transform="translate(715.0,357.1) scale(0.95,1)" class="lb" font-size="17.66">Corinth</text>
<text transform="translate(792.0,352.1) scale(0.95,1)" class="lb" font-size="17.66">Little Elm</text>
<text transform="translate(822.0,399.1) scale(0.95,1)" class="lb" font-size="17.66">The Colony</text>
<text transform="translate(398.0,298.6) scale(0.95,1)" class="lb" font-size="17.66">Decatur</text>
<text transform="translate(294.0,317.6) scale(0.95,1)" class="lb" font-size="17.66">Bridgeport</text>
<text transform="translate(55.0,310.7) scale(0.95,1)" class="lb" font-size="17.66">Jacksboro</text>
<text transform="translate(440.0,478.7) scale(0.95,1)" class="lb" font-size="17.66">Briar</text>
<text transform="translate(424.5,548.9) scale(0.95,1)" class="lb" font-size="17.66">Azle</text>
<text transform="translate(532.6,571.0) scale(0.95,1)" class="lb" font-size="17.66">Saginaw</text>
<text transform="translate(602.0,517.1) scale(0.95,1)" class="lb" font-size="17.66">Keller</text>
<text transform="translate(707.0,512.6) scale(0.95,1)" class="lb" font-size="17.66">Grapevine</text>
<text transform="translate(625.0,564.1) scale(0.95,1)" class="lb" font-size="17.66">North</text>
<text transform="translate(625.0,585.6) scale(0.95,1)" class="lb" font-size="17.66">Richland</text>
<text transform="translate(625.0,607.1) scale(0.95,1)" class="lb" font-size="17.66">Hills</text>
<text transform="translate(879.5,566.1) scale(0.95,1)" class="lb" font-size="17.66">University</text>
<text transform="translate(880.0,587.1) scale(0.95,1)" class="lb" font-size="17.66">Park</text>
<text transform="translate(1037.0,459.1) scale(0.95,1)" class="lb" font-size="17.66">Wylie</text>
<text transform="translate(1003.0,489.1) scale(0.95,1)" class="lb" font-size="17.66">Sachse</text>
<text transform="translate(1083.0,519.1) scale(0.95,1)" class="lb" font-size="17.66">Rockwall</text>
<text transform="translate(1296.0,369.1) scale(0.95,1)" class="lb" font-size="17.66">Greenville</text>
<text transform="translate(1319.0,209.1) scale(0.95,1)" class="lb" font-size="17.66">City</text>
<text transform="translate(1211.0,195.0) scale(0.95,1)" class="lb" font-size="17.66">Leonard</text>
<text transform="translate(1421.0,287.1) scale(0.95,1)" class="lb" font-size="17.66">Commerce</text>
<text transform="translate(80.5,596.1) scale(0.95,1)" class="lb" font-size="17.66">Mineral</text>
<text transform="translate(80.5,618.1) scale(0.95,1)" class="lb" font-size="17.66">Wells</text>
<text transform="translate(260.0,643.1) scale(0.95,1)" class="lb" font-size="17.66">Weatherford</text>
<text transform="translate(473.0,700.6) scale(0.95,1)" class="lb" font-size="17.66">Benbrook</text>
<text transform="translate(556.5,797.1) scale(0.95,1)" class="lb" font-size="17.66">Burleson</text>
<text transform="translate(521.0,857.1) scale(0.95,1)" class="lb" font-size="17.66">Joshua</text>
<text transform="translate(276.5,872.1) scale(0.95,1)" class="lb" font-size="17.66">Granbury</text>
<text transform="translate(811.0,725.1) scale(0.95,1)" class="lb" font-size="17.66">Duncanville</text>
<text transform="translate(783.0,755.1) scale(0.95,1)" class="lb" font-size="17.66">Cedar</text>
<text transform="translate(783.0,775.1) scale(0.95,1)" class="lb" font-size="17.66">Hill</text>
<text transform="translate(842.5,765.6) scale(0.95,1)" class="lb" font-size="17.66">DeSoto</text>
<text transform="translate(667.5,783.6) scale(0.95,1)" class="lb" font-size="17.66">Mansfield</text>
<text transform="translate(674.0,315.5) scale(0.95,1)" class="lb" font-size="21.94">Denton</text>
<text transform="translate(862.0,361.5) scale(0.95,1)" class="lb" font-size="21.94">Frisco</text>
<text transform="translate(988.0,326.5) scale(0.95,1)" class="lb" font-size="21.94">McKinney</text>
<text transform="translate(952.0,395.5) scale(0.95,1)" class="lb" font-size="21.94">Allen</text>
<text transform="translate(758.0,436.5) scale(0.95,1)" class="lb" font-size="21.94">Lewisville</text>
<text transform="translate(821.0,488.5) scale(0.95,1)" class="lb" font-size="21.94">Carrollton</text>
<text transform="translate(938.0,456.5) scale(0.95,1)" class="lb" font-size="21.94">Plano</text>
<text transform="translate(975.0,531.5) scale(0.95,1)" class="lb" font-size="21.94">Garland</text>
<text transform="translate(784.0,605.5) scale(0.95,1)" class="lb" font-size="21.94">Irving</text>
<text transform="translate(991.0,632.0) scale(0.95,1)" class="lb" font-size="21.94">Mesquite</text>
<text transform="translate(689.0,662.0) scale(0.95,1)" class="lb" font-size="21.94">Arlington</text>
<text transform="translate(555.0,637.5) scale(0.95,1)" class="lb" font-size="21.94">Fort</text>
<text transform="translate(555.0,665.0) scale(0.95,1)" class="lb" font-size="21.94">Worth</text>
<text transform="translate(877.6,632.7) scale(0.95,1)" class="lb" font-size="28.89">Dallas</text>
<circle cx="876.7" cy="599" r="48.5" fill="rgba(175,31,44,0.45)" stroke="#ee6f6f" stroke-width="1.25"/>
<circle cx="554.3" cy="637.2" r="31.7" fill="rgba(215,210,63,0.40)" stroke="#78732f" stroke-width="1.25"/>
<circle cx="771.7" cy="557.7" r="24.7" fill="rgba(143,180,138,0.40)" stroke="#56684f" stroke-width="1.25"/>
<circle cx="691.3" cy="666.7" r="23.6" fill="rgba(143,180,138,0.40)" stroke="#56684f" stroke-width="1.25"/>
<circle cx="896.5" cy="428.4" r="21.6" fill="rgba(130,170,165,0.40)" stroke="#566e6c" stroke-width="1.25"/>
<circle cx="727.5" cy="540" r="19.5" fill="rgba(108,165,202,0.40)" stroke="#4f6e84" stroke-width="1.25"/>
<circle cx="673.3" cy="313" r="19.0" fill="rgba(108,165,202,0.40)" stroke="#4f6e84" stroke-width="1.25"/>
<circle cx="862.2" cy="364.4" r="18.5" fill="rgba(108,165,202,0.40)" stroke="#4f6e84" stroke-width="1.25"/>
<circle cx="976.3" cy="536.2" r="17.5" fill="rgba(108,165,202,0.40)" stroke="#4f6e84" stroke-width="1.25"/>
<circle cx="844.6" cy="576.7" r="17.2" fill="rgba(108,165,202,0.40)" stroke="#4f6e84" stroke-width="1.25"/>
<circle cx="953" cy="328.7" r="17.0" fill="rgba(108,165,202,0.40)" stroke="#4f6e84" stroke-width="1.25"/>
<circle cx="736.4" cy="671.5" r="17.0" fill="rgba(108,165,202,0.40)" stroke="#4f6e84" stroke-width="1.25"/>
<circle cx="732" cy="534" r="17.0" fill="rgba(108,165,202,0.40)" stroke="#4f6e84" stroke-width="1.25"/>
<circle cx="764.6" cy="445.6" r="16.5" fill="rgba(108,165,202,0.40)" stroke="#4f6e84" stroke-width="1.25"/>
<circle cx="923.9" cy="486.7" r="16.5" fill="rgba(108,165,202,0.40)" stroke="#4f6e84" stroke-width="1.25"/>
<circle cx="986.7" cy="618.3" r="16.0" fill="rgba(108,165,202,0.40)" stroke="#4f6e84" stroke-width="1.25"/>
<circle cx="819.1" cy="473" r="15.5" fill="rgba(88,150,205,0.40)" stroke="#4a6d8a" stroke-width="1.25"/>
<circle cx="710.3" cy="507.9" r="15.4" fill="rgba(88,150,205,0.40)" stroke="#4a6d8a" stroke-width="1.25"/>
<circle cx="728" cy="534" r="14.0" fill="rgba(108,165,202,0.40)" stroke="#4f6e84" stroke-width="1.25"/>
<circle cx="854.9" cy="498.9" r="13.9" fill="rgba(83,157,226,0.40)" stroke="#44698c" stroke-width="1.25"/>
<circle cx="828.3" cy="519.9" r="13.8" fill="rgba(83,157,226,0.40)" stroke="#44698c" stroke-width="1.25"/>
<circle cx="881.5" cy="576.6" r="13.6" fill="rgba(83,157,226,0.40)" stroke="#44698c" stroke-width="1.25"/>
<circle cx="952.3" cy="386.5" r="13.2" fill="rgba(83,157,226,0.40)" stroke="#44698c" stroke-width="1.25"/>
<circle cx="698.2" cy="575" r="13.0" fill="rgba(83,157,226,0.40)" stroke="#44698c" stroke-width="1.25"/>
<circle cx="841.6" cy="751.4" r="12.8" fill="rgba(83,157,226,0.40)" stroke="#44698c" stroke-width="1.25"/>
<circle cx="830.8" cy="408.6" r="12.5" fill="rgba(83,157,226,0.40)" stroke="#44698c" stroke-width="1.25"/>
<circle cx="756" cy="494.5" r="12.5" fill="rgba(83,157,226,0.40)" stroke="#44698c" stroke-width="1.25"/>
<circle cx="669.5" cy="503.4" r="12.5" fill="rgba(83,157,226,0.40)" stroke="#44698c" stroke-width="1.25"/>
<circle cx="620.9" cy="575" r="12.5" fill="rgba(83,157,226,0.40)" stroke="#44698c" stroke-width="1.25"/>
<circle cx="1029.6" cy="530.6" r="12.5" fill="rgba(83,157,226,0.40)" stroke="#44698c" stroke-width="1.25"/>
<circle cx="682.7" cy="770.6" r="12.3" fill="rgba(83,157,226,0.40)" stroke="#44698c" stroke-width="1.25"/>
<circle cx="673.6" cy="579.3" r="12.2" fill="rgba(83,157,226,0.40)" stroke="#44698c" stroke-width="1.25"/>
<circle cx="878.9" cy="747.6" r="12.0" fill="rgba(83,157,226,0.40)" stroke="#44698c" stroke-width="1.25"/>
<circle cx="710.1" cy="444.4" r="11.8" fill="rgba(83,157,226,0.40)" stroke="#44698c" stroke-width="1.25"/>
<circle cx="643.7" cy="586.9" r="11.8" fill="rgba(83,157,226,0.40)" stroke="#44698c" stroke-width="1.25"/>
<circle cx="790.7" cy="760.2" r="11.8" fill="rgba(83,157,226,0.40)" stroke="#44698c" stroke-width="1.25"/>
<circle cx="1025.5" cy="455.8" r="11.7" fill="rgba(83,157,226,0.40)" stroke="#44698c" stroke-width="1.25"/>
<circle cx="1082" cy="532.4" r="11.5" fill="rgba(83,157,226,0.40)" stroke="#44698c" stroke-width="1.25"/>
<circle cx="809.4" cy="718.7" r="11.4" fill="rgba(83,157,226,0.40)" stroke="#44698c" stroke-width="1.25"/>
<circle cx="805.2" cy="332" r="11.2" fill="rgba(83,157,226,0.40)" stroke="#44698c" stroke-width="1.25"/>
<circle cx="730" cy="538" r="11.0" fill="rgba(83,157,226,0.40)" stroke="#44698c" stroke-width="1.25"/>
<circle cx="588.7" cy="594" r="11.0" fill="rgba(83,157,226,0.40)" stroke="#44698c" stroke-width="1.25"/>
<circle cx="989" cy="665.4" r="11.0" fill="rgba(83,157,226,0.40)" stroke="#44698c" stroke-width="1.25"/>
<circle cx="1090.4" cy="650.7" r="10.8" fill="rgba(83,157,226,0.40)" stroke="#44698c" stroke-width="1.25"/>
<circle cx="865" cy="295.2" r="10.6" fill="rgba(83,157,226,0.40)" stroke="#44698c" stroke-width="1.25"/>
<circle cx="613.8" cy="517.1" r="10.5" fill="rgba(83,157,226,0.40)" stroke="#44698c" stroke-width="1.25"/>
<circle cx="1051.7" cy="336.6" r="10.4" fill="rgba(83,157,226,0.40)" stroke="#44698c" stroke-width="1.25"/>
<circle cx="873.9" cy="259.2" r="10.1" fill="rgba(83,157,226,0.40)" stroke="#44698c" stroke-width="1.25"/>
<circle cx="666.5" cy="544.5" r="10.0" fill="rgba(83,157,226,0.40)" stroke="#44698c" stroke-width="1.25"/>
<circle cx="1294.3" cy="381.5" r="10.0" fill="rgba(83,157,226,0.40)" stroke="#44698c" stroke-width="1.25"/>
<circle cx="551.4" cy="801" r="10.0" fill="rgba(83,157,226,0.40)" stroke="#44698c" stroke-width="1.25"/>
<circle cx="849.8" cy="885" r="10.0" fill="rgba(83,157,226,0.40)" stroke="#44698c" stroke-width="1.25"/>
<circle cx="531" cy="562" r="9.9" fill="rgba(83,157,226,0.40)" stroke="#44698c" stroke-width="1.25"/>
<circle cx="1006.3" cy="483.7" r="9.8" fill="rgba(83,157,226,0.40)" stroke="#44698c" stroke-width="1.25"/>
<circle cx="643.2" cy="468.5" r="9.6" fill="rgba(83,157,226,0.40)" stroke="#44698c" stroke-width="1.25"/>
<circle cx="601.3" cy="557.7" r="9.6" fill="rgba(83,157,226,0.40)" stroke="#44698c" stroke-width="1.25"/>
<circle cx="989" cy="452" r="9.5" fill="rgba(83,157,226,0.40)" stroke="#44698c" stroke-width="1.25"/>
<circle cx="474.5" cy="645" r="9.5" fill="rgba(83,157,226,0.40)" stroke="#44698c" stroke-width="1.25"/>
<circle cx="482.1" cy="690" r="9.5" fill="rgba(83,157,226,0.40)" stroke="#44698c" stroke-width="1.25"/>
<circle cx="536.8" cy="772.1" r="9.5" fill="rgba(83,157,226,0.40)" stroke="#44698c" stroke-width="1.25"/>
<circle cx="844.2" cy="788.9" r="9.5" fill="rgba(83,157,226,0.40)" stroke="#44698c" stroke-width="1.25"/>
<circle cx="868.3" cy="805.9" r="9.5" fill="rgba(83,157,226,0.40)" stroke="#44698c" stroke-width="1.25"/>
<circle cx="1024.5" cy="710.8" r="9.5" fill="rgba(83,157,226,0.40)" stroke="#44698c" stroke-width="1.25"/>
<circle cx="762" cy="847.9" r="9.5" fill="rgba(83,157,226,0.40)" stroke="#44698c" stroke-width="1.25"/>
<circle cx="277.5" cy="650.5" r="9.3" fill="rgba(83,157,226,0.40)" stroke="#44698c" stroke-width="1.25"/>
<circle cx="1018.2" cy="210.3" r="9.3" fill="rgba(83,157,226,0.40)" stroke="#44698c" stroke-width="1.25"/>
<circle cx="1015.6" cy="256.7" r="9.3" fill="rgba(83,157,226,0.40)" stroke="#44698c" stroke-width="1.25"/>
<circle cx="592.4" cy="710.2" r="9.3" fill="rgba(83,157,226,0.40)" stroke="#44698c" stroke-width="1.25"/>
<circle cx="1181.2" cy="661.6" r="9.3" fill="rgba(83,157,226,0.40)" stroke="#44698c" stroke-width="1.25"/>
<circle cx="715.4" cy="361.9" r="9.2" fill="rgba(83,157,226,0.40)" stroke="#44698c" stroke-width="1.25"/>
<circle cx="712.1" cy="406" r="9.0" fill="rgba(83,157,226,0.40)" stroke="#44698c" stroke-width="1.25"/>
<circle cx="973.3" cy="367.5" r="9.0" fill="rgba(83,157,226,0.40)" stroke="#44698c" stroke-width="1.25"/>
<circle cx="1160.9" cy="487.5" r="9.0" fill="rgba(83,157,226,0.40)" stroke="#44698c" stroke-width="1.25"/>
<circle cx="1128" cy="510.8" r="9.0" fill="rgba(83,157,226,0.40)" stroke="#44698c" stroke-width="1.25"/>
<circle cx="853.4" cy="488.7" r="8.5" fill="rgba(83,157,226,0.40)" stroke="#44698c" stroke-width="1.25"/>
<circle cx="1076.5" cy="577.5" r="8.5" fill="rgba(83,157,226,0.40)" stroke="#44698c" stroke-width="1.25"/>
<circle cx="536.1" cy="597.9" r="8.5" fill="rgba(83,157,226,0.40)" stroke="#44698c" stroke-width="1.25"/>
<circle cx="609.1" cy="767.8" r="8.5" fill="rgba(83,157,226,0.40)" stroke="#44698c" stroke-width="1.25"/>
<circle cx="428.2" cy="541" r="8.4" fill="rgba(83,157,226,0.40)" stroke="#44698c" stroke-width="1.25"/>
<circle cx="565" cy="470" r="8.4" fill="rgba(83,157,226,0.40)" stroke="#44698c" stroke-width="1.25"/>
<circle cx="729" cy="538" r="8.0" fill="rgba(83,157,226,0.40)" stroke="#44698c" stroke-width="1.25"/>
<circle cx="696.3" cy="709" r="8.0" fill="rgba(83,157,226,0.40)" stroke="#44698c" stroke-width="1.25"/>
<circle cx="833.3" cy="694.6" r="8.0" fill="rgba(83,157,226,0.40)" stroke="#44698c" stroke-width="1.25"/>
<circle cx="731.7" cy="565.4" r="7.5" fill="rgba(83,157,226,0.40)" stroke="#44698c" stroke-width="1.25"/>
<circle cx="273.7" cy="871.2" r="7.2" fill="rgba(83,157,226,0.40)" stroke="#44698c" stroke-width="1.25"/>
<circle cx="727.7" cy="518.8" r="7.2" fill="rgba(83,157,226,0.40)" stroke="#44698c" stroke-width="1.25"/>
<circle cx="728" cy="545" r="6.5" fill="rgba(83,157,226,0.40)" stroke="#44698c" stroke-width="1.25"/>
</svg>
<div style="position:absolute;left:1234.5px;top:207.3px;width:190.5px;height:44.5px;background:#fff;border-radius:6px;box-shadow:0 1px 4px rgba(0,0,0,0.2)">
<svg width="23" height="23" style="position:absolute;left:11px;top:10.6px" viewBox="0 0 23 23"><rect x="0.5" y="0.5" width="22" height="22" rx="2.5" fill="#efefef" stroke="#e0e0e0"/><path d="M1,1 H11.5 L10.8,11 H1 Z" fill="#adadb3"/><path d="M1,13.2 H10 L9.5,22 H1 Z" fill="#adadb3"/><rect x="1" y="11.2" width="10.5" height="0.8" fill="#d6d6d8"/></svg></div>
<div style="position:absolute;left:1382px;width:43px;background:#fff;box-shadow:0 1px 3px rgba(0,0,0,0.15);display:flex;align-items:center;justify-content:center;top:258px;height:42px"><svg width="18" height="18" viewBox="0 0 18 18"><path d="M9,1V17M1,9H17" stroke="#737b83" stroke-width="2.2"/></svg></div>
<div style="position:absolute;left:1382px;width:43px;background:#fff;box-shadow:0 1px 3px rgba(0,0,0,0.15);display:flex;align-items:center;justify-content:center;top:301px;height:42px"><svg width="18" height="18" viewBox="0 0 18 18"><path d="M1,9H17" stroke="#737b83" stroke-width="2.2"/></svg></div>
<div style="position:absolute;left:1382px;width:43px;background:#fff;box-shadow:0 1px 3px rgba(0,0,0,0.15);display:flex;align-items:center;justify-content:center;top:350px;height:43px"><svg width="18" height="14" viewBox="0 0 18 14"><path d="M4,1H14L17,13H1Z" fill="#737b83"/></svg></div>
<div style="position:absolute;left:1382px;width:43px;background:#fff;box-shadow:0 1px 3px rgba(0,0,0,0.15);display:flex;align-items:center;justify-content:center;top:399px;height:43px"><svg width="10" height="22" viewBox="0 0 10 22"><path d="M5,0L9.5,11L5,22L0.5,11Z" fill="#737b83"/><path d="M5,4L7.8,11H2.2Z" fill="#fff"/></svg></div>
<div style="position:absolute;left:1382px;width:43px;background:#fff;box-shadow:0 1px 3px rgba(0,0,0,0.15);display:flex;align-items:center;justify-content:center;top:448px;height:43px"><svg width="14" height="14" viewBox="0 0 14 14"><path d="M1,1L12,5L8,7L13,12L12,13L7,8L5,12Z" fill="#737b83"/></svg></div>
<svg width="20" height="19" style="position:absolute;left:41px;top:862px" viewBox="0 0 20 19"><rect x="0" y="0" width="9.8" height="9.3" fill="#f25022"/><rect x="10.2" y="0" width="9.8" height="9.3" fill="#7fba00"/><rect x="0" y="9.7" width="9.8" height="9.3" fill="#00a4ef"/><rect x="10.2" y="9.7" width="9.8" height="9.3" fill="#ffb900"/></svg>
<svg width="1463" height="907" viewBox="0 0 1463 907" style="position:absolute;left:0;top:0;pointer-events:none">
<text x="117.00" y="43.20" font-size="22" font-weight="bold" fill="#000" textLength="56.09" lengthAdjust="spacingAndGlyphs" font-family="Liberation Sans, Arial, sans-serif">Origin</text>
<text x="325.40" y="41.20" font-size="22" font-weight="bold" fill="#000" textLength="108.07" lengthAdjust="spacingAndGlyphs" font-family="Liberation Sans, Arial, sans-serif">Destination</text>
<text x="207.40" y="116.80" font-size="22" font-weight="bold" fill="#000" textLength="112.83" lengthAdjust="spacingAndGlyphs" font-family="Liberation Sans, Arial, sans-serif">Clear filters</text>
<text x="639.00" y="181.50" font-size="20.5" font-weight="normal" fill="#252423" textLength="187.03" lengthAdjust="spacingAndGlyphs" font-family="Liberation Sans, Arial, sans-serif" stroke="#252423" stroke-width="0.35">Origin Cluster Map</text>
<text x="625.00" y="50.20" font-size="41" font-weight="normal" fill="#252423" textLength="139.06" lengthAdjust="spacingAndGlyphs" font-family="Liberation Sans, Arial, sans-serif" stroke="#252423" stroke-width="0.45">614,304</text>
<text x="878.00" y="50.10" font-size="41" font-weight="normal" fill="#252423" textLength="69.39" lengthAdjust="spacingAndGlyphs" font-family="Liberation Sans, Arial, sans-serif" stroke="#252423" stroke-width="0.45">10.3</text>
<text x="1076.00" y="50.10" font-size="41" font-weight="normal" fill="#252423" textLength="116.06" lengthAdjust="spacingAndGlyphs" font-family="Liberation Sans, Arial, sans-serif" stroke="#252423" stroke-width="0.45">$24.79</text>
<text x="1319.80" y="50.00" font-size="41" font-weight="normal" fill="#252423" textLength="66.84" lengthAdjust="spacingAndGlyphs" font-family="Liberation Sans, Arial, sans-serif" stroke="#252423" stroke-width="0.45">10.1</text>
<text x="650.00" y="87.00" font-size="19.3" font-weight="normal" fill="#605e5c" textLength="89.30" lengthAdjust="spacingAndGlyphs" font-family="Liberation Sans, Arial, sans-serif" stroke="#605e5c" stroke-width="0.25">Total Trips</text>
<text x="824.40" y="86.80" font-size="19.3" font-weight="normal" fill="#605e5c" textLength="174.44" lengthAdjust="spacingAndGlyphs" font-family="Liberation Sans, Arial, sans-serif" stroke="#605e5c" stroke-width="0.25">Distance (avg miles)</text>
<text x="1057.00" y="87.00" font-size="19.3" font-weight="normal" fill="#605e5c" textLength="154.03" lengthAdjust="spacingAndGlyphs" font-family="Liberation Sans, Arial, sans-serif" stroke="#605e5c" stroke-width="0.25">Cust Total Charge</text>
<text x="1079.00" y="107.60" font-size="19.3" font-weight="normal" fill="#605e5c" textLength="109.08" lengthAdjust="spacingAndGlyphs" font-family="Liberation Sans, Arial, sans-serif" stroke="#605e5c" stroke-width="0.25">(avg dollars)</text>
<text x="1272.00" y="86.80" font-size="19.3" font-weight="normal" fill="#605e5c" textLength="167.01" lengthAdjust="spacingAndGlyphs" font-family="Liberation Sans, Arial, sans-serif" stroke="#605e5c" stroke-width="0.25">Wait Time (avg min)</text>
<text x="1279.00" y="234.80" font-size="16.3" font-weight="normal" fill="#222" textLength="125.03" lengthAdjust="spacingAndGlyphs" font-family="Liberation Sans, Arial, sans-serif">Grayscale (Light)</text>
<text x="64.40" y="877.40" font-size="16" font-weight="bold" fill="#6d6d6d" textLength="114.65" lengthAdjust="spacingAndGlyphs" font-family="Liberation Sans, Arial, sans-serif">Microsoft Azure</text>
<text x="1282.60" y="877.00" font-size="12" font-weight="normal" fill="#222" textLength="86.03" lengthAdjust="spacingAndGlyphs" font-family="Liberation Sans, Arial, sans-serif" stroke="#ffffff" stroke-width="2" paint-order="stroke" stroke-opacity="0.8">&#169;2025 TomTom</text>
<text x="1374.40" y="877.00" font-size="12" font-weight="normal" fill="#222" textLength="50.62" lengthAdjust="spacingAndGlyphs" font-family="Liberation Sans, Arial, sans-serif" stroke="#ffffff" stroke-width="2" paint-order="stroke" stroke-opacity="0.8">Feedback</text>
<rect x="1374.5" y="880" width="50.5" height="1.3" fill="#111"/>
</svg>
</body></html>
